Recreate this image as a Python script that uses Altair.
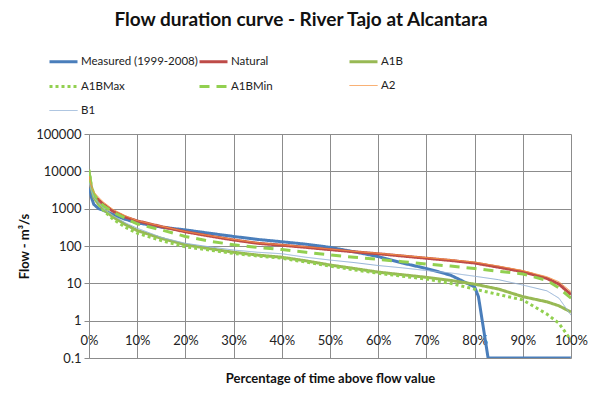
import altair as alt
import pandas as pd

names = ["Measured (1999-2008)", "Natural", "A1B", "A1BMax", "A1BMin", "A2", "B1"]
colors = ["#4A7EBB", "#BE4B48", "#98B954", "#92D050", "#92D050", "#F79646", "#95B3D7"]
widths = [3, 3, 3, 3, 3, 1, 1]
dashes = [[1, 0], [1, 0], [1, 0], [3, 3], [10, 7], [1, 0], [1, 0]]

pct = [0, 0.5, 1, 2, 3, 5, 7.5, 10, 15, 20, 25, 30, 35, 40, 45, 50, 55, 60, 65,
       70, 75, 80, 85, 90, 95, 97.5, 100]

measured_pct = [0, 0.5, 1, 2, 3, 5, 7.5, 10, 15, 20, 25, 30, 35, 40, 45, 50, 55,
                60, 65, 70, 75, 80, 80.8, 82.8, 100]
measured = [4500, 2000, 1300, 1000, 900, 700, 520, 420, 320, 270, 220, 180, 150,
            130, 112, 92, 70, 52, 35, 25, 16.6, 8, 4.4, 0.1, 0.1]

natural = [7000, 3500, 2300, 1700, 1300, 850, 600, 470, 330, 240, 185, 145, 118,
           105, 92, 80, 70, 62, 54, 47, 41, 35, 27, 20.5, 13.5, 9.5, 5]
a1b = [10000, 3500, 2000, 1300, 950, 600, 380, 260, 160, 108, 85, 68, 57, 50, 40,
       31, 25, 20, 17, 14.5, 12, 9.5, 7, 4.4, 3.2, 2.5, 1.7]
a1bmax = [11000, 4000, 2200, 1300, 900, 520, 320, 220, 140, 95, 78, 63, 54, 47, 37,
          29, 23, 18.6, 15.5, 13, 10, 7, 5, 3.6, 1.5, 0.85, 0.3]
a1bmin = [9000, 4000, 2500, 1600, 1200, 800, 560, 390, 270, 180, 135, 108, 92, 80,
          68, 58, 50, 44, 38, 33, 29, 25, 21, 17.8, 12, 7.5, 4]
a2 = [7500, 4000, 2800, 2000, 1500, 950, 650, 480, 340, 245, 190, 150, 122, 108, 95,
      83, 72, 64, 56, 49, 43, 37, 29, 22, 15, 11, 6]
b1 = [5000, 3000, 2000, 1400, 1000, 650, 420, 300, 170, 118, 95, 78, 68, 62, 50, 42,
      36, 30, 26, 22, 19, 15.5, 12.5, 9, 6.3, 4, 1.4]

y_ticks = [0.1, 1, 10, 100, 1000, 10000, 100000]
x_ticks = [0, 10, 20, 30, 40, 50, 60, 70, 80, 90, 100]

rows = []
for p, v in zip(measured_pct, measured):
    rows.append({"series": names[0], "pct": p, "flow": v})
for name, vals in zip(names[1:], [natural, a1b, a1bmax, a1bmin, a2, b1]):
    for p, v in zip(pct, vals):
        rows.append({"series": name, "pct": p, "flow": v})
df = pd.DataFrame(rows)

FONT = "Lato"
GRID = "#8C8C8C"

legend = alt.Legend(title=None, orient="none", legendX=-41, legendY=-88,
                    columns=3, gridAlign="all", direction="horizontal",
                    symbolType="stroke", symbolSize=784,
                    columnPadding=-15, rowPadding=3, labelOffset=2,
                    labelFont=FONT, labelFontSize=11.5, labelColor="#222")

chart = alt.Chart(df).mark_line(strokeCap="butt", clip=True).encode(
    x=alt.X("pct:Q",
            scale=alt.Scale(domain=[0, 100], nice=False),
            axis=alt.Axis(values=x_ticks, labelExpr="datum.value + '%'",
                          title="Percentage of time above flow value",
                          offset=-38, ticks=False, domain=False, grid=True,
                          gridColor=GRID, labelPadding=14, titlePadding=25,
                          labelFlush=False,
                          labelFont=FONT, labelFontSize=13, labelColor="#222",
                          titleFont=FONT, titleFontSize=13, titleFontWeight="bold",
                          titleColor="#111")),
    y=alt.Y("flow:Q",
            scale=alt.Scale(type="log", domain=[0.1, 100000], nice=False),
            axis=alt.Axis(values=y_ticks,
                          labelExpr="datum.value >= 1 ? format(datum.value, 'd') : format(datum.value, '.1f')",
                          title="Flow - m³/s", grid=True, gridColor=GRID,
                          domainColor=GRID, tickColor=GRID, tickSize=5,
                          labelPadding=3, titlePadding=4,
                          labelFont=FONT, labelFontSize=13, labelColor="#222",
                          titleFont=FONT, titleFontSize=13, titleFontWeight="bold",
                          titleColor="#111")),
    color=alt.Color("series:N", scale=alt.Scale(domain=names, range=colors),
                    legend=legend),
    strokeWidth=alt.StrokeWidth("series:N",
                                scale=alt.Scale(type="ordinal", domain=names, range=widths),
                                legend=legend),
    strokeDash=alt.StrokeDash("series:N", scale=alt.Scale(domain=names, range=dashes),
                              legend=legend),
    order=alt.Order("pct:Q"),
).properties(
    width=482,
    height=224,
    padding={"left": 81, "top": 126, "right": 20, "bottom": 30},
    autosize=alt.AutoSizeParams(type="none"),
    title=alt.TitleParams("Flow duration curve - River Tajo at Alcantara",
                          font=FONT, fontSize=19, fontWeight="bold",
                          color="#111", anchor="middle", dx=-29, offset=16),
).configure_view(stroke=None)

chart.save("out.html", embed_options={"renderer": "svg", "actions": False})
